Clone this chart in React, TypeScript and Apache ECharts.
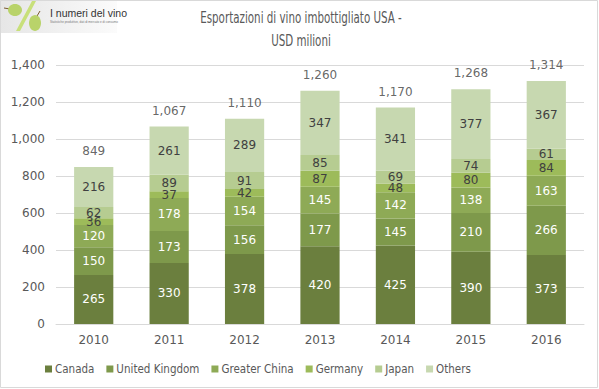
import React, { useEffect, useRef } from "react";
import * as echarts from "echarts";

const years = ["2010", "2011", "2012", "2013", "2014", "2015", "2016"];
const canada = [265, 330, 378, 420, 425, 390, 373];
const unitedKingdom = [150, 173, 156, 177, 145, 210, 266];
const greaterChina = [120, 178, 154, 145, 142, 138, 163];
const germany = [36, 37, 42, 87, 48, 80, 84];
const japan = [62, 89, 91, 85, 69, 74, 61];
const others = [216, 261, 289, 347, 341, 377, 367];
const totals = [849, 1067, 1110, 1260, 1170, 1268, 1314];

const seriesDefs = [
  { name: "Canada", data: canada, color: "#6b7f3e", label: "#ffffff" },
  { name: "United Kingdom", data: unitedKingdom, color: "#7e994b", label: "#ffffff" },
  { name: "Greater China", data: greaterChina, color: "#8eaa56", label: "#ffffff" },
  { name: "Germany", data: germany, color: "#9dbb5a", label: "#404040" },
  { name: "Japan", data: japan, color: "#b6cc91", label: "#404040" },
  { name: "Others", data: others, color: "#c7d8b0", label: "#404040" },
];

const narrow = "'DejaVu Sans Condensed', 'Liberation Sans Narrow', sans-serif";
const wide = "'DejaVu Sans', Verdana, sans-serif";

export default function App() {
  const ref = useRef<HTMLDivElement>(null);
  useEffect(() => {
    document.body.style.margin = "0";
    const chart = echarts.init(ref.current!, null, { renderer: "svg" });
    const series: any[] = seriesDefs.map((s) => ({
      name: s.name,
      type: "bar",
      stack: "total",
      data: s.data,
      barCategoryGap: "48%",
      itemStyle: { color: s.color },
      label: {
        show: true,
        position: "inside",
        color: s.label,
        fontFamily: wide,
        fontSize: 12,
      },
    }));
    series.push({
      name: "Totale",
      type: "scatter",
      data: totals,
      symbolSize: 0,
      silent: true,
      label: {
        show: true,
        position: "top",
        distance: 10,
        color: "#404040",
        fontFamily: wide,
        fontSize: 12,
        formatter: (p: any) => p.value.toLocaleString("en-US"),
      },
    });
    const titleStyle = {
      fontFamily: narrow,
      fontSize: 15.5,
      fill: "#595959",
      align: "center",
      verticalAlign: "middle",
    };
    chart.setOption({
      animation: false,
      backgroundColor: "#ffffff",
      legend: {
        data: seriesDefs.map((s) => s.name),
        left: 40,
        top: 358,
        itemWidth: 7,
        itemHeight: 7,
        itemGap: 12,
        icon: "rect",
        textStyle: { fontFamily: narrow, fontSize: 11.5, color: "#595959", padding: [0, 0, 0, -2] },
      },
      grid: { left: 56, right: 15, top: 65, bottom: 65 },
      xAxis: {
        type: "category",
        data: years,
        axisLine: { lineStyle: { color: "#d9d9d9" } },
        axisTick: { show: false },
        axisLabel: { fontFamily: wide, fontSize: 12, color: "#595959", margin: 10 },
      },
      yAxis: {
        type: "value",
        min: 0,
        max: 1400,
        interval: 200,
        axisLine: { show: false },
        axisTick: { show: false },
        splitLine: { lineStyle: { color: "#d9d9d9" } },
        axisLabel: {
          fontFamily: wide,
          fontSize: 12,
          color: "#595959",
          margin: 11,
          formatter: (v: number) => v.toLocaleString("en-US"),
        },
      },
      graphic: [
        {
          type: "rect",
          shape: { x: 0.5, y: 0.5, width: 597, height: 387 },
          style: { fill: "none", stroke: "#d9d9d9", lineWidth: 1 },
          z: 100,
        },
        {
          type: "text",
          x: 301,
          y: 17,
          scaleX: 0.74,
          style: { ...titleStyle, text: "Esportazioni di vino imbottigliato USA -" },
        },
        {
          type: "text",
          x: 301,
          y: 40,
          scaleX: 0.74,
          style: { ...titleStyle, text: "USD milioni" },
        },
        {
          type: "group",
          left: 0,
          top: 0,
          children: [
            {
              type: "rect",
              shape: { x: 0, y: 0, width: 117, height: 33 },
              style: {
                fill: new echarts.graphic.LinearGradient(0, 0, 1, 0, [
                  { offset: 0, color: "#e6e6e6" },
                  { offset: 1, color: "#fbfbfb" },
                ]),
              },
            },
            {
              type: "line",
              shape: { x1: 4, y1: 8, x2: 10, y2: 9 },
              style: { stroke: "#7a5a30", lineWidth: 1 },
            },
            {
              type: "ellipse",
              shape: { cx: 15, cy: 10, rx: 7, ry: 6 },
              style: { fill: "#b9d36a" },
            },
            {
              type: "polygon",
              shape: { points: [[32, 1], [36, 1], [20, 31], [16, 31]] },
              style: { fill: "#c8e07a" },
            },
            {
              type: "line",
              shape: { x1: 37, y1: 16, x2: 40, y2: 11 },
              style: { stroke: "#7a5a30", lineWidth: 1 },
            },
            {
              type: "ellipse",
              shape: { cx: 35, cy: 23, rx: 6, ry: 8 },
              style: { fill: "#b9d36a" },
            },
            {
              type: "text",
              x: 50,
              y: 7,
              style: {
                text: "I numeri del vino",
                fontFamily: "'Liberation Sans', sans-serif",
                fontSize: 10.5,
                fill: "#333333",
              },
            },
            {
              type: "text",
              x: 50,
              y: 20,
              style: {
                text: "Statistiche produttive, dati di mercato e di consumo",
                fontFamily: "'Liberation Sans', sans-serif",
                fontSize: 3,
                fill: "#777777",
              },
            },
          ],
        },
      ],
      series,
    });
    return () => chart.dispose();
  }, []);
  return (
    <div
      ref={ref}
      style={{ position: "fixed", left: 0, top: 0, width: 599, height: 389 }}
    />
  );
}
